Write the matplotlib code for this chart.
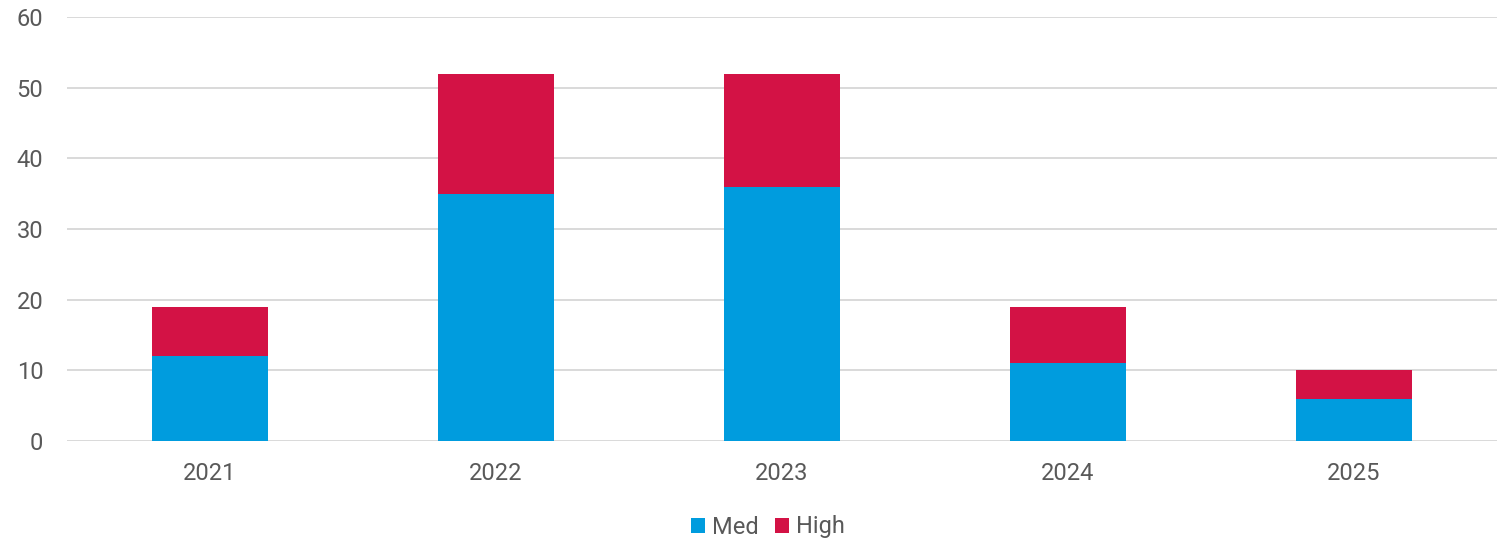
import matplotlib
matplotlib.use("Agg")
import matplotlib.pyplot as plt
import numpy as np

years = ["2021", "2022", "2023", "2024", "2025"]
med = [12, 35, 36, 11, 6]
high = [7, 17, 16, 8, 4]

plt.rcParams['font.family'] = ['Roboto', 'DejaVu Sans']

fig = plt.figure(figsize=(15.09, 5.41), dpi=100)
ax = fig.add_axes([67/1509, 1-441/541, (1497-67)/1509, (441-17)/541])

x = np.arange(len(years))
w = 0.406
ax.bar(x, med, width=w, color="#009CDE", label="Med", zorder=3)
ax.bar(x, high, width=w, bottom=med, color="#D31245", label="High", zorder=3)

ax.set_xlim(-0.5, len(years)-0.5)
ax.set_ylim(0, 60)
ax.set_yticks(range(0, 61, 10))
ax.set_xticks(x)
ax.set_xticklabels(years)
ax.yaxis.grid(True, color="#D9D9D9", linewidth=1.4, zorder=0)
ax.set_axisbelow(True)
for s in ax.spines.values():
    s.set_visible(False)
ax.tick_params(axis='y', length=0, pad=17, labelsize=17, labelcolor="#595959")
ax.tick_params(axis='x', length=0, pad=15, labelsize=17, labelcolor="#595959")

leg = fig.legend(loc="center", bbox_to_anchor=(768/1509, 1-527/541), ncol=2, frameon=False,
                 fontsize=17, handlelength=0.6, handleheight=0.6, handletextpad=0.3,
                 columnspacing=0.7)
for t in leg.get_texts():
    t.set_color("#595959")

fig.savefig("out.png", dpi=100)
